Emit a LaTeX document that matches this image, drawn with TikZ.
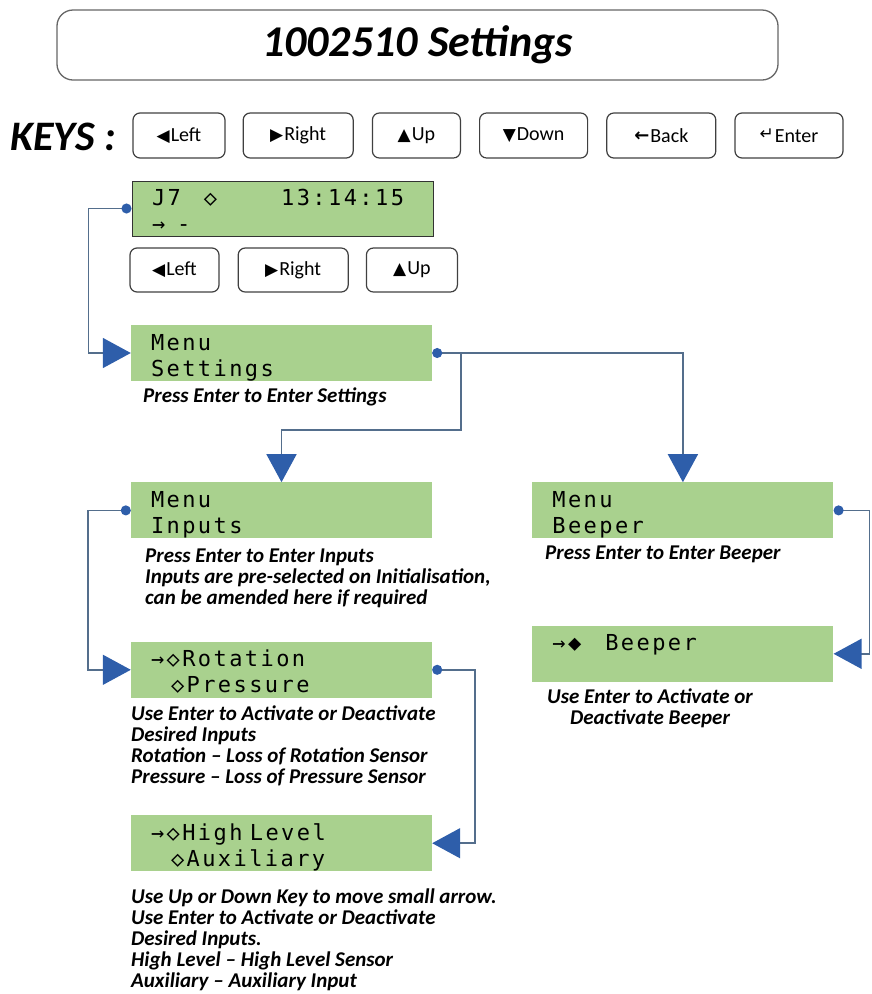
\documentclass[tikz,border=0pt]{standalone}
\usepackage{fontspec}
\setmainfont{Carlito}
\newfontfamily\lcdfont[LetterSpace=11]{DejaVu Sans Mono}
\newfontfamily\symfont{DejaVu Sans}
\usetikzlibrary{positioning,arrows.meta}
\definecolor{lcdgreen}{RGB}{169,209,142}
\definecolor{linkgray}{RGB}{84,110,140}
\definecolor{tipblue}{RGB}{46,94,170}
\newcommand{\ksym}[2][17]{{\symfont\fontsize{#1}{#1}\selectfont #2}\hspace{1pt}}
\tikzset{
  keybtn/.style={draw=black!75, line width=1.2pt, rounded corners=7pt, minimum height=45pt, inner sep=0pt, font=\fontsize{20}{20}\selectfont},
  lcdbox/.style={fill=lcdgreen, text height=23pt, text depth=29pt, text width=261pt, inner xsep=20pt, inner ysep=2pt, align=left, font=\lcdfont\fontsize{22}{26}\selectfont},
  note/.style={inner sep=0pt, align=left, font=\bfseries\itshape\fontsize{21}{21}\selectfont},
  link/.style={draw=linkgray, line width=1.5pt, -{Triangle[length=28pt,width=30pt,color=tipblue]}},
  dotlink/.style={link, {Circle[length=10pt,color=tipblue]}-{Triangle[length=28pt,width=30pt,color=tipblue]}}
}
\begin{document}
\begin{tikzpicture}[x=1pt, y=-1pt]
\useasboundingbox (0,0) rectangle (871,994);
\node (title) [draw=black!60, line width=1.3pt, rounded corners=16pt, minimum width=721pt, minimum height=70pt, font=\bfseries\itshape\fontsize{44}{44}\selectfont] at (417.5,45) {1002510 Settings};
\node (keys) [anchor=base west, inner sep=0pt, font=\bfseries\itshape\fontsize{42}{42}\selectfont] at (10,150) {KEYS :};
\node (kleft) [keybtn, minimum width=92pt] at (179,135.5) {\ksym{◀}Left};
\node (kright) [keybtn, minimum width=110pt, right=17pt of kleft] {\ksym{▶}Right};
\node (kup) [keybtn, minimum width=88pt, right=18pt of kright] {\ksym{▲}Up};
\node (kdown) [keybtn, minimum width=108pt, right=18pt of kup] {\ksym{▼}Down};
\node (kback) [keybtn, minimum width=109pt, right=18pt of kdown] {\ksym[18]{\bfseries\raisebox{1pt}{←}}Back};
\node (kenter) [keybtn, minimum width=108pt, right=18pt of kback] {\ksym[17]{\raisebox{3pt}{↵}}Enter};

\node (lcd) [lcdbox, draw=black!80, line width=1pt, text height=22pt, text depth=29pt] at (282.5,208.5) {J7\hspace{23pt}◇\hspace{64pt}13:14:15\\→\hspace{12pt}-};
\node (sleft) [keybtn, minimum width=89pt, minimum height=44pt] at (174.5,270) {\ksym{◀}Left};
\node (sright) [keybtn, minimum width=110pt, minimum height=44pt, right=18pt of sleft] {\ksym{▶}Right};
\node (sup) [keybtn, minimum width=91pt, minimum height=44pt, right=17pt of sright] {\ksym{▲}Up};

\node (menuset) [lcdbox] at (281.5,353) {Menu\\Settings};
\node (menuinp) [lcdbox, below=101pt of menuset] {Menu\\Inputs};
\node (menubeep) [lcdbox, right=100pt of menuinp] {Menu\\Beeper};
\node (beeptog) [lcdbox, below=87pt of menubeep] {→◆\hspace{24pt}Beeper};
\node (rot) [lcdbox, below=103pt of menuinp] {→◇Rotation\\\hspace{20pt}◇Pressure};
\node (hilev) [lcdbox, below=117pt of rot] {→◇High Level\\\hspace{20pt}◇Auxiliary};

\node (capset) [note, anchor=north west] at (143,388) {Press Enter to Enter Settings};
\node (capinp) [note, anchor=north west] at (145,549) {Press Enter to Enter Inputs\\Inputs are pre-selected on Initialisation,\\can be amended here if required};
\node (capbeep) [note, anchor=north west] at (545,546) {Press Enter to Enter Beeper};
\node (captog) [note, align=center, anchor=north] at (650,689) {Use Enter to Activate or\\Deactivate Beeper};
\node (caprot) [note, anchor=north west] at (131,706) {Use Enter to Activate or Deactivate\\Desired Inputs\\Rotation – Loss of Rotation Sensor\\Pressure – Loss of Pressure Sensor};
\node (caphi) [note, anchor=north west] at (131,889) {Use Up or Down Key to move small arrow.\\Use Enter to Activate or Deactivate\\Desired Inputs.\\High Level – High Level Sensor\\Auxiliary – Auxiliary Input};

\path (menuset.east) ++(29,0) coordinate (fork);
\draw[dotlink] (lcd.west) -- ++(-43,0) |- (menuset.west);
\draw[dotlink] (menuset.east) -| (menubeep.north);
\draw[link] (fork) -- ++(0,77) -| (menuinp.north);
\draw[dotlink] (menubeep.east) -- ++(36,0) |- (beeptog.east);
\draw[dotlink] (menuinp.west) -- ++(-43,0) |- (rot.west);
\draw[dotlink] (rot.east) -- ++(43,0) |- (hilev.east);
\end{tikzpicture}
\end{document}
